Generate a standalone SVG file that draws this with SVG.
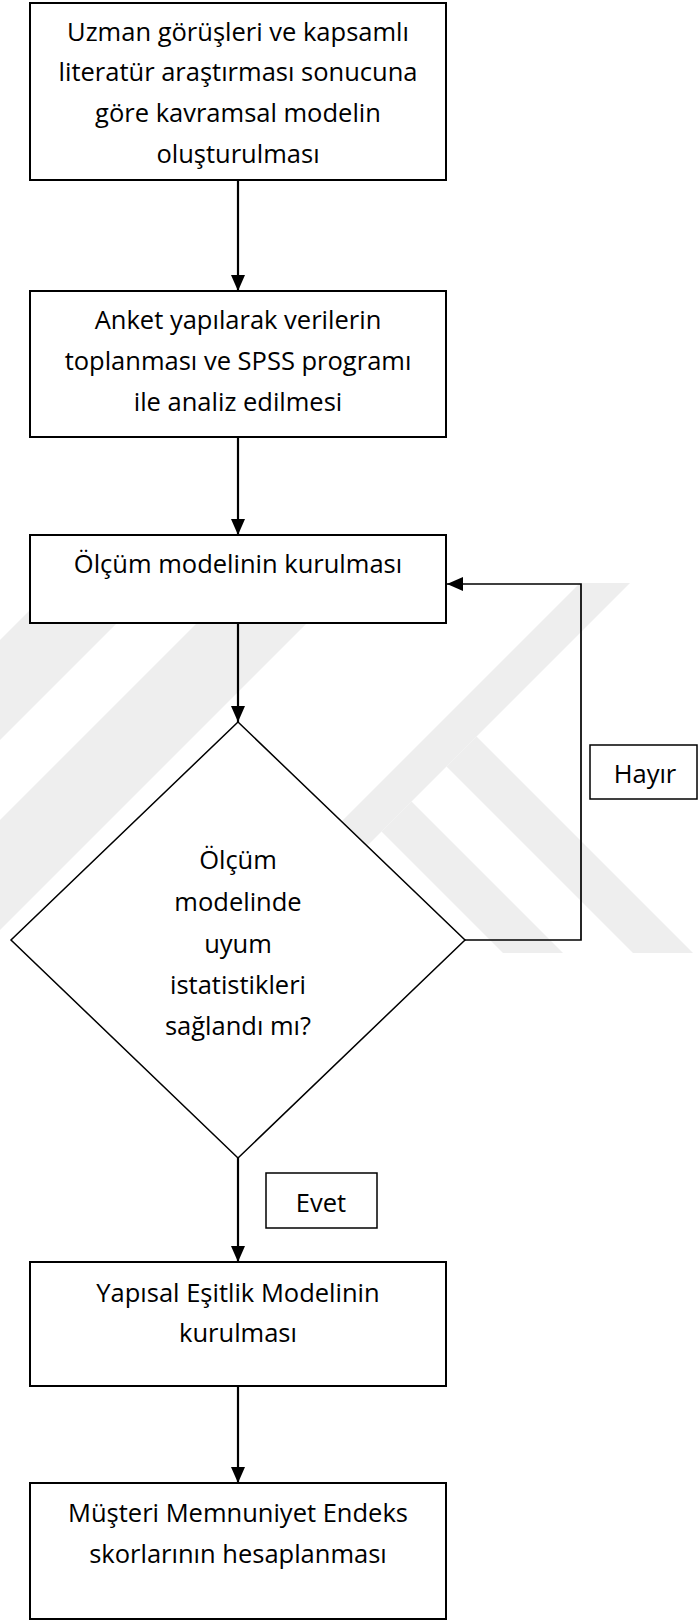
<svg xmlns="http://www.w3.org/2000/svg" width="698" height="1622" viewBox="0 0 698 1622">
<style>
  .box{fill:#ffffff;stroke:#000000;stroke-width:2}
  .dia{fill:#ffffff;stroke:#000000;stroke-width:1.5}
  .lbl{fill:#ffffff;stroke:#000000;stroke-width:1.5}
  .t{font-family:"Open Sans","Liberation Sans",sans-serif;font-size:25.5px;fill:#000000;text-anchor:middle}
  .wm{fill:#eeeeee;stroke:none}
  .c{fill:none;stroke:#000000;stroke-width:2.2}
  .cf{fill:none;stroke:#000000;stroke-width:1.7}
</style>
<defs>
  <marker id="ah" viewBox="0 0 16 14" refX="16" refY="7" markerWidth="16" markerHeight="14" markerUnits="userSpaceOnUse" orient="auto">
    <path d="M0,0 L16,7 L0,14 Z" fill="#000000"/>
  </marker>
</defs>
<rect x="0" y="0" width="698" height="1622" fill="#ffffff"/>
<g id="watermark">
  <polygon class="wm" points="57,583 157,583 0,740 0,640"/>
  <polygon class="wm" points="237,583 347,583 0,930 0,820"/>
  <polygon class="wm" points="580,583 630,583 260,953 210,953"/>
  <polygon class="wm" points="476.5,736.5 693,953 633,953 446.5,766.5"/>
  <polygon class="wm" points="411.5,801.5 563,953 503,953 381.5,831.5"/>
</g>
<g id="connectors">
  <line class="c" x1="238" y1="180" x2="238" y2="291" marker-end="url(#ah)"/>
  <line class="c" x1="238" y1="437" x2="238" y2="535" marker-end="url(#ah)"/>
  <line class="c" x1="238" y1="623" x2="238" y2="722" marker-end="url(#ah)"/>
  <path class="cf" d="M465,940 H581 V584 H447" marker-end="url(#ah)"/>
  <line class="c" x1="238" y1="1158" x2="238" y2="1262" marker-end="url(#ah)"/>
  <line class="c" x1="238" y1="1386" x2="238" y2="1483" marker-end="url(#ah)"/>
</g>
<g id="n1">
  <rect class="box" x="30" y="3" width="416" height="177"/>
  <text class="t" x="238" y="41">Uzman görüşleri ve kapsamlı</text>
  <text class="t" x="238" y="81">literatür araştırması sonucuna</text>
  <text class="t" x="238" y="122">göre kavramsal modelin</text>
  <text class="t" x="238" y="163">oluşturulması</text>
</g>
<g id="n2">
  <rect class="box" x="30" y="291" width="416" height="146"/>
  <text class="t" x="238" y="329">Anket yapılarak verilerin</text>
  <text class="t" x="238" y="370">toplanması ve SPSS programı</text>
  <text class="t" x="238" y="411">ile analiz edilmesi</text>
</g>
<g id="n3">
  <rect class="box" x="30" y="535" width="416" height="88"/>
  <text class="t" x="238" y="573">Ölçüm modelinin kurulması</text>
</g>
<g id="n4">
  <polygon class="dia" points="238,722 465,940 238,1158 11,940"/>
  <text class="t" x="238" y="869">Ölçüm</text>
  <text class="t" x="238" y="911">modelinde</text>
  <text class="t" x="238" y="953">uyum</text>
  <text class="t" x="238" y="994">istatistikleri</text>
  <text class="t" x="238" y="1035">sağlandı mı?</text>
</g>
<g id="lbl-hayir">
  <rect class="lbl" x="590" y="745" width="107" height="54"/>
  <text class="t" x="645" y="783">Hayır</text>
</g>
<g id="lbl-evet">
  <rect class="lbl" x="266" y="1173" width="111" height="55"/>
  <text class="t" x="321" y="1212">Evet</text>
</g>
<g id="n5">
  <rect class="box" x="30" y="1262" width="416" height="124"/>
  <text class="t" x="238" y="1302">Yapısal Eşitlik Modelinin</text>
  <text class="t" x="238" y="1342">kurulması</text>
</g>
<g id="n6">
  <rect class="box" x="30" y="1483" width="416" height="136"/>
  <text class="t" x="238" y="1522">Müşteri Memnuniyet Endeks</text>
  <text class="t" x="238" y="1563">skorlarının hesaplanması</text>
</g>
</svg>
